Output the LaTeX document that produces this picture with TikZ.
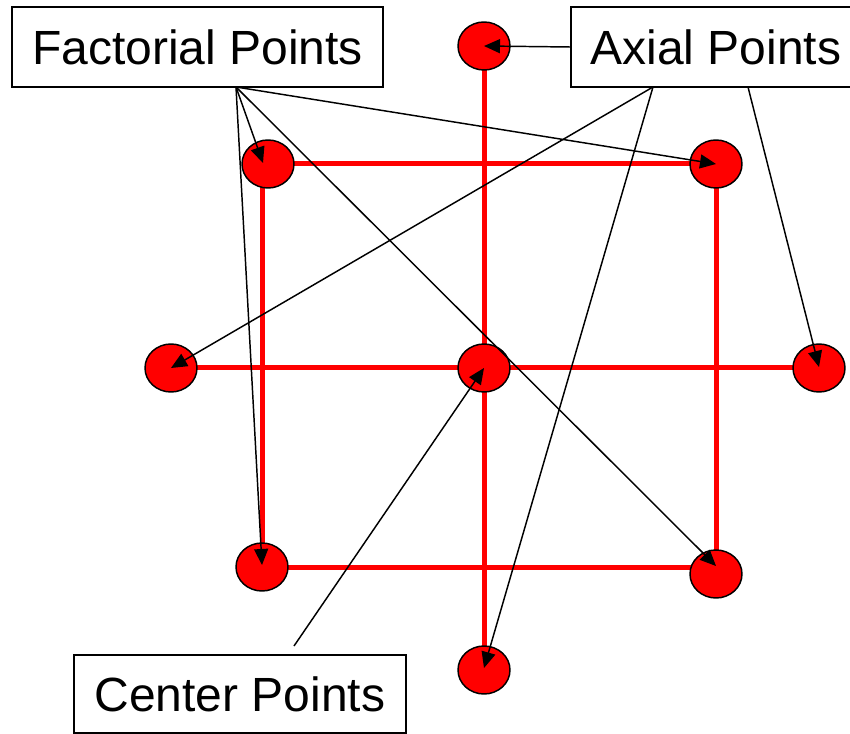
\documentclass[tikz,border=0pt]{standalone}
\usepackage{fontspec}
\setmainfont{Liberation Sans}
\usetikzlibrary{shapes.geometric,arrows.meta,calc,backgrounds}
\begin{document}
\begin{tikzpicture}[x=0.75pt,y=-0.75pt,
  dot/.style={ellipse,draw=black,line width=1.1pt,fill=red,minimum width=39pt,minimum height=36pt,inner sep=0pt},
  redline/.style={draw=red,line width=3.75pt},
  lbl/.style={draw=black,line width=1.1pt,fill=white,inner sep=0pt,font=\fontsize{36}{40}\selectfont},
  arr/.style={draw=black,line width=1.1pt,-{Triangle[length=12pt,width=10.5pt]}},
  conn/.style={draw=black,line width=1.1pt}]
\clip (0,0) rectangle (850,734);
% points
\node[dot] (ax1) at (484,46) {};
\node[dot] (tl) at (268,164) {};
\node[dot] (tr) at (716,164) {};
\node[dot] (ax2) at (171,368) {};
\node[dot] (c) at (484,368) {};
\node[dot] (ax3) at (819,368) {};
\node[dot] (bl) at (262,567) {};
\node[dot] (br) at (716,574) {};
\node[dot] (ax4) at (484,670) {};
% red design lines
\begin{pgfonlayer}{background}
\draw[redline] (ax1.center) -- (ax4.center);
\draw[redline] (ax2.center) -- (ax3.center);
\draw[redline] (tl.center) -- (tr.center);
\draw[redline] (tr.center) -- (br.center);
\draw[redline] (bl.center) -- (bl.center -| br.center);
\draw[redline] (bl.center) -- (bl.center |- tl.center);
\end{pgfonlayer}
% labels
\node[lbl,minimum width=278.25pt,minimum height=60pt] (fp) at (197.5,47) {Factorial Points};
\node[lbl,minimum width=217.5pt,minimum height=60pt] (ap) at (716,47) {Axial Points};
\node[lbl,minimum width=249pt,minimum height=58.5pt] (cp) at (240,694) {Center Points};
% connector origins
\coordinate (fo) at (236,87);
\coordinate (ao1) at (653,87);
\coordinate (ao2) at (748,87);
\coordinate (co) at (294,646);
% arrows
\draw[arr] (fo) -- ($(tl.center)+(-5,-1)$);
\draw[arr] (fo) -- (tr.center);
\draw[arr] (fo) -- ($(bl.center)+(0,-2)$);
\draw[arr] (fo) -- ($(br.center)+(0,-8)$);
\draw[arr] (ap.west) -- (ax1.center);
\draw[arr] (ao1) -- (ax2.center);
\draw[arr] (ao1) -- ($(ax4.center)+(0,-2)$);
\draw[arr] (ao2) -- ($(ax3.center)+(0,-1)$);
\draw[arr] (co) -- (c.center);
\end{tikzpicture}
\end{document}
